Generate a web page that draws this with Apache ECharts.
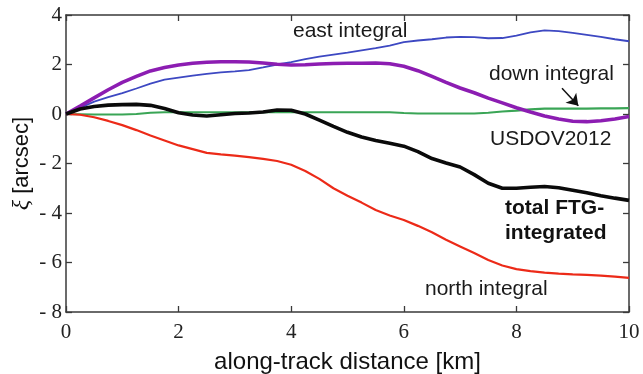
<!DOCTYPE html>
<html>
<head>
<meta charset="utf-8">
<title>Deflection of the vertical along track</title>
<script src="https://cdn.jsdelivr.net/npm/echarts@6/dist/echarts.min.js"></script>
<style>
  html, body { margin: 0; padding: 0; background: #fff; }
  #chart { width: 643px; height: 374px; }
</style>
</head>
<body>
<div id="chart"></div>
<script>
// along-track distance [km], sampled every 250 m
const distanceKm = [
  0, 0.25, 0.5, 0.75, 1, 1.25, 1.5, 1.75, 2, 2.25, 2.5, 2.75, 3, 3.25, 3.5, 3.75, 4,
  4.25, 4.5, 4.75, 5, 5.25, 5.5, 5.75, 6, 6.25, 6.5, 6.75, 7, 7.25, 7.5, 7.75, 8,
  8.25, 8.5, 8.75, 9, 9.25, 9.5, 9.75, 10
];

// xi [arcsec] for each profile
const eastIntegral = [
  0, 0.25, 0.5, 0.68, 0.84, 1.03, 1.23, 1.39, 1.47, 1.55, 1.62, 1.68, 1.72, 1.77, 1.88, 2.0, 2.1,
  2.22, 2.32, 2.4, 2.48, 2.57, 2.66, 2.76, 2.9, 2.97, 3.02, 3.09, 3.12, 3.11, 3.06, 3.07, 3.17,
  3.3, 3.38, 3.35, 3.28, 3.2, 3.12, 3.02, 2.94
];
const usdov2012 = [
  0, 0.32, 0.65, 0.98, 1.28, 1.52, 1.74, 1.88, 1.98, 2.05, 2.09, 2.11, 2.11, 2.1, 2.06, 2.01, 1.98,
  1.99, 2.02, 2.04, 2.05, 2.05, 2.06, 2.03, 1.93, 1.75, 1.52, 1.28, 1.05, 0.86, 0.64, 0.45, 0.25,
  0.08, -0.08, -0.2, -0.29, -0.31, -0.27, -0.2, -0.1
];
const downIntegral = [
  0, -0.01, -0.02, -0.02, -0.02, 0.0, 0.05, 0.07, 0.07, 0.07, 0.07, 0.07, 0.07, 0.07, 0.07, 0.07, 0.07,
  0.07, 0.07, 0.07, 0.07, 0.07, 0.07, 0.07, 0.04, 0.02, 0.02, 0.02, 0.02, 0.02, 0.05, 0.1, 0.14,
  0.19, 0.22, 0.22, 0.22, 0.22, 0.23, 0.23, 0.24
];
const totalFtg = [
  0, 0.2, 0.3, 0.36, 0.38, 0.39, 0.35, 0.22, 0.05, -0.04, -0.08, -0.03, 0.02, 0.04, 0.08, 0.16, 0.15,
  0.0, -0.25, -0.5, -0.74, -0.93, -1.07, -1.18, -1.3, -1.52, -1.8, -1.98, -2.14, -2.45, -2.8, -3.0, -3.0,
  -2.96, -2.93, -2.98, -3.08, -3.18, -3.3, -3.4, -3.49
];
const northIntegral = [
  0, -0.03, -0.13, -0.28, -0.45, -0.65, -0.87, -1.07, -1.27, -1.42, -1.57, -1.63, -1.68, -1.74, -1.81, -1.9, -2.05,
  -2.3, -2.62, -3.0, -3.3, -3.58, -3.88, -4.1, -4.28, -4.52, -4.78, -5.08, -5.35, -5.62, -5.9, -6.12, -6.27,
  -6.35, -6.41, -6.45, -6.48, -6.5, -6.53, -6.57, -6.62
];

const xTicks = { min: 0, max: 10, interval: 2 };
const yTicks = { min: -8, max: 4, interval: 2 };

const pairs = ys => distanceKm.map((d, i) => [d, ys[i]]);

const frame = '#3a3a3a';
const serif = '"Liberation Serif", "DejaVu Serif", serif';
const sans = '"Liberation Sans", Arial, sans-serif';

function frameAxis(extra) {
  return Object.assign({
    type: 'value',
    axisLine: { show: true, onZero: false, lineStyle: { color: frame, width: 1.5 } },
    axisTick: { show: true, inside: true, length: 6, lineStyle: { color: frame, width: 1.3 } },
    splitLine: { show: false }
  }, extra);
}

const chart = echarts.init(document.getElementById('chart'), null, { renderer: 'canvas' });

chart.setOption({
  animation: false,
  backgroundColor: '#fff',
  grid: { left: 66, right: 14, top: 15, bottom: 62, containLabel: false, outerBoundsMode: 'none' },
  xAxis: [
    frameAxis({
      position: 'bottom', min: xTicks.min, max: xTicks.max, interval: xTicks.interval,
      axisLabel: { color: '#222', fontFamily: serif, fontSize: 21, margin: 10 },
      name: 'along-track distance [km]', nameLocation: 'middle', nameGap: 38, nameMoveOverlap: false,
      nameTextStyle: { color: '#111', fontFamily: sans, fontSize: 24 }
    }),
    frameAxis({
      position: 'top', min: xTicks.min, max: xTicks.max, interval: xTicks.interval,
      axisLabel: { show: false }
    })
  ],
  yAxis: [
    frameAxis({
      position: 'left', min: yTicks.min, max: yTicks.max, interval: yTicks.interval,
      axisLabel: {
        color: '#222', fontFamily: serif, fontSize: 21, margin: 4,
        formatter: v => (v < 0 ? '- ' + (-v) : String(v))
      },
      name: '{g|ξ} [arcsec]', nameLocation: 'middle', nameRotate: 90, nameGap: 32, nameMoveOverlap: false,
      nameTextStyle: {
        color: '#111', fontFamily: sans, fontSize: 22,
        rich: { g: { fontFamily: serif, fontSize: 24, fontStyle: 'italic', color: '#111' } }
      }
    }),
    frameAxis({
      position: 'right', min: yTicks.min, max: yTicks.max, interval: yTicks.interval,
      axisLabel: { show: false }
    })
  ],
  series: [
    {
      name: 'down integral', type: 'line', data: pairs(downIntegral), showSymbol: false,
      lineStyle: { color: '#3aa556', width: 2.2 }, z: 2,
      markLine: {
        silent: true, symbol: ['none', 'arrow'], symbolSize: 11,
        label: { show: false },
        lineStyle: { color: '#111', width: 1.5, type: 'solid' },
        data: [[{ coord: [8.81, 1.04] }, { coord: [9.1, 0.33] }]]
      }
    },
    {
      name: 'east integral', type: 'line', data: pairs(eastIntegral), showSymbol: false,
      lineStyle: { color: '#3d48c2', width: 1.8 }, z: 3
    },
    {
      name: 'north integral', type: 'line', data: pairs(northIntegral), showSymbol: false,
      lineStyle: { color: '#ec2a18', width: 2.2 }, z: 3
    },
    {
      name: 'USDOV2012', type: 'line', data: pairs(usdov2012), showSymbol: false,
      lineStyle: { color: '#8c1db2', width: 3.6 }, z: 4
    },
    {
      name: 'total FTG-integrated', type: 'line', data: pairs(totalFtg), showSymbol: false,
      lineStyle: { color: '#0a0a0a', width: 3.6 }, z: 5
    }
  ],
  graphic: [
    { type: 'text', left: 293, top: 21, style: { text: 'east integral', font: '21px ' + sans, fill: '#1a1a1a' } },
    { type: 'text', left: 489, top: 64, style: { text: 'down integral', font: '21px ' + sans, fill: '#1a1a1a' } },
    { type: 'text', left: 490, top: 129, style: { text: 'USDOV2012', font: '21px ' + sans, fill: '#1a1a1a' } },
    { type: 'text', left: 505, top: 196, style: { text: 'total FTG-\nintegrated', font: 'bold 21px ' + sans, lineHeight: 25, fill: '#111' } },
    { type: 'text', left: 425, top: 279, style: { text: 'north integral', font: '21px ' + sans, fill: '#1a1a1a' } }
  ]
});
</script>
</body>
</html>
